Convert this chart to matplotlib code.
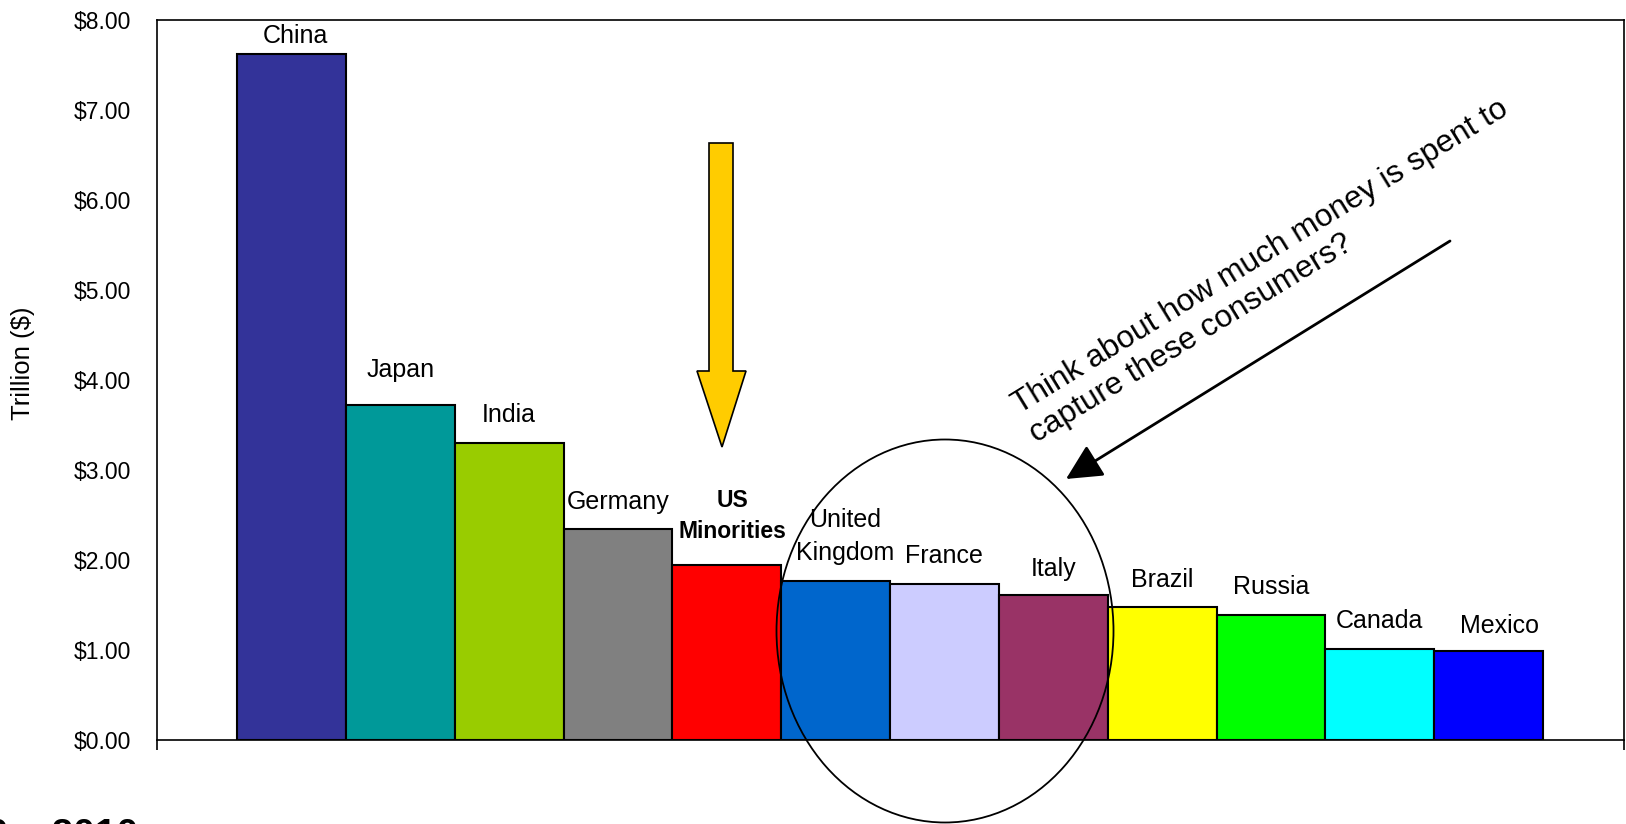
import numpy as np
import matplotlib
matplotlib.use('Agg')
import matplotlib.pyplot as plt
import matplotlib.transforms as mtransforms
from matplotlib.patches import Ellipse, Polygon

plt.rcParams['font.family'] = ['Liberation Sans', 'DejaVu Sans']

# data (trillion $)
countries = ['China', 'Japan', 'India', 'Germany', 'US\nMinorities', 'United\nKingdom',
             'France', 'Italy', 'Brazil', 'Russia', 'Canada', 'Mexico']
values = [7.62, 3.72, 3.30, 2.34, 1.94, 1.77, 1.73, 1.61, 1.48, 1.39, 1.01, 0.99]
colors = ['#333399', '#009999', '#99CC00', '#808080', '#FF0000', '#0066CC',
          '#CCCCFF', '#993366', '#FFFF00', '#00FF00', '#00FFFF', '#0000FF']
yticks = [0, 1, 2, 3, 4, 5, 6, 7, 8]

# label placement (points above the bar top for the last line / sideways shift)
label_dy = [8, 20, 15, 15, 20, 15, 15, 13.7, 14.4, 15, 15, 13]
label_dx = [3, 0, 0, 0, 4, 7, 0, 0, 0, 0, 0, 8]

W, H = 1626, 824
fig = plt.figure(figsize=(W / 100, H / 100), dpi=100)
ax = fig.add_axes([157 / W, 84 / H, 1467 / W, 720 / H])

x = np.arange(len(countries))
ax.bar(x, values, width=1.0, color=colors, edgecolor='black', linewidth=1.5, zorder=2)

ax.set_xlim(-1.235, 12.244)
ax.set_ylim(0, 8)
ax.set_yticks(yticks)
ax.set_yticklabels(['${:.2f}'.format(v) for v in yticks], fontsize=16.5)
ax.tick_params(axis='y', length=0, pad=19)
ax.set_xticks([-1.235, 12.244])
ax.set_xticklabels([])
ax.tick_params(axis='x', length=7, width=1.2, direction='out')
for s in ax.spines.values():
    s.set_linewidth(1.2)
    s.set_color('black')
ax.set_ylabel('Trillion ($)', fontsize=18.5)
ax.yaxis.set_label_coords(-122 / 1467, (740 - 363) / 720)

for i, (name, v) in enumerate(zip(countries, values)):
    bold = name.startswith('US')
    ax.annotate(name, xy=(x[i], v), xytext=(label_dx[i], label_dy[i]),
                textcoords='offset points', ha='center', va='baseline',
                fontsize=16.5 if bold else 18, fontweight='bold' if bold else 'normal',
                linespacing=1.45, multialignment='center')

# pixel transform (origin top-left like the picture)
px = mtransforms.Affine2D().scale(1 / W, -1 / H).translate(0, 1) + fig.transFigure

# yellow block arrow
arrow_pts = [(709, 143), (733, 143), (733, 371), (746, 371), (722, 447),
             (697, 371), (709, 371)]
fig.add_artist(Polygon(arrow_pts, closed=True, facecolor='#FFCC00', edgecolor='black',
                       linewidth=1.2, transform=px, zorder=5))

# circle around the European group
fig.add_artist(Ellipse((945, 631), 337, 383, fill=False, edgecolor='black',
                       linewidth=1.3, transform=px, zorder=6))

# black pointer arrow
ax.annotate('', xy=(1066, 479), xycoords=px, xytext=(1450, 241), textcoords=px,
            arrowprops=dict(arrowstyle='-|>,head_length=0.4,head_width=0.2', color='black',
                            lw=2, mutation_scale=55, shrinkA=0, shrinkB=0),
            annotation_clip=False)

fig.text(1035 / W, 1 - 440 / H, 'Think about how much money is spent to\ncapture these consumers?',
         rotation=31.5, rotation_mode='anchor', ha='left', va='baseline', fontsize=22.8,
         linespacing=1.13)

# title cut off at the bottom edge
fig.text(138 / W, -22 / H, '2000 \u2013 2010', ha='right', va='baseline',
         fontsize=28, fontweight='bold')

fig.savefig('out.png', dpi=100)
